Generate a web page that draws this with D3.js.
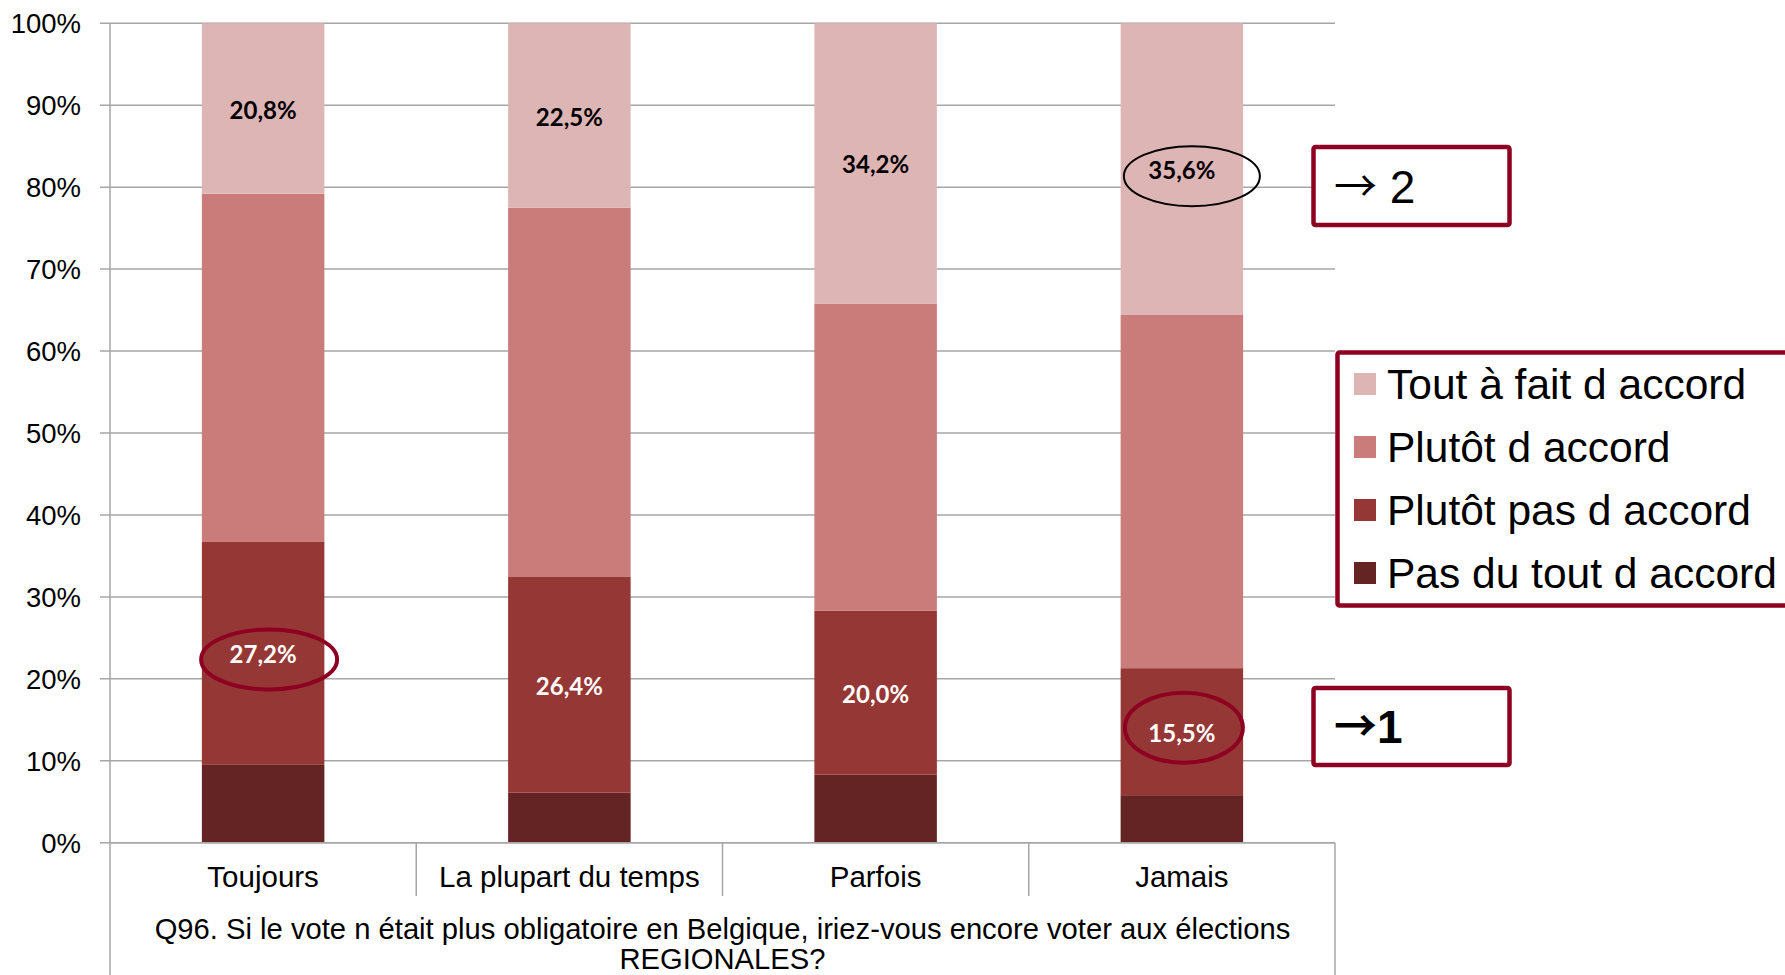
<!DOCTYPE html>
<html>
<head>
<meta charset="utf-8">
<script src="https://cdn.jsdelivr.net/npm/d3@7"></script>
<style>
  html, body { margin: 0; padding: 0; background: #fff; }
  svg { display: block; }
</style>
</head>
<body>
<svg id="chart" width="1785" height="975"></svg>
<script>
// ---- Data ----
const categories = ["Toujours", "La plupart du temps", "Parfois", "Jamais"];
const seriesNames = ["Pas du tout d accord", "Plutôt pas d accord", "Plutôt d accord", "Tout à fait d accord"];
const pasDuTout    = [9.5, 6.1, 8.3, 5.8];
const plutotPas    = [27.2, 26.4, 20.0, 15.5];
const plutotAccord = [42.5, 45.0, 37.5, 43.1];
const toutAFait    = [20.8, 22.5, 34.2, 35.6];
const yTicks = [0, 10, 20, 30, 40, 50, 60, 70, 80, 90, 100];
const titleLines = ["Q96. Si le vote n était plus obligatoire en Belgique, iriez-vous encore voter aux élections", "REGIONALES?"];
const legendOrder = ["Tout à fait d accord", "Plutôt d accord", "Plutôt pas d accord", "Pas du tout d accord"];

const colors = {
  "Pas du tout d accord": "#632423",
  "Plutôt pas d accord": "#953735",
  "Plutôt d accord": "#CA7C7B",
  "Tout à fait d accord": "#DEB5B5"
};
const labelled = { "Plutôt pas d accord": "#ffffff", "Tout à fait d accord": "#000000" };

const table = categories.map((c, i) => ({
  cat: c,
  "Pas du tout d accord": pasDuTout[i],
  "Plutôt pas d accord": plutotPas[i],
  "Plutôt d accord": plutotAccord[i],
  "Tout à fait d accord": toutAFait[i]
}));

const svg = d3.select("#chart");
const pLeft = 110, pRight = 1335, pTop = 23.3, pBottom = 842.7;
const accent = "#8E0022";
const sans = "Liberation Sans, Arial, sans-serif";

const x = d3.scaleBand().domain(categories).range([pLeft, pRight]).padding(0);
const y = d3.scaleLinear().domain([0, 100]).range([pBottom, pTop]);
const barW = x.bandwidth() * 0.4;

// gridlines
svg.append("g").selectAll("line").data(yTicks).join("line")
  .attr("x1", pLeft - 10).attr("x2", pRight)
  .attr("y1", d => y(d)).attr("y2", d => y(d))
  .attr("stroke", "#A6A6A6").attr("stroke-width", 1.5);

// y tick labels
svg.append("g").selectAll("text").data(yTicks).join("text")
  .attr("x", 81).attr("y", d => y(d))
  .attr("dy", "0.36em")
  .attr("text-anchor", "end")
  .attr("font-family", sans)
  .attr("font-size", 27.5)
  .attr("fill", "#000")
  .text(d => d + "%");

// stacked bars
const stack = d3.stack().keys(seriesNames)(table);
const layers = svg.append("g").selectAll("g").data(stack).join("g")
  .attr("fill", d => colors[d.key]);
layers.selectAll("rect").data(d => d).join("rect")
  .attr("x", d => x(d.data.cat) + (x.bandwidth() - barW) / 2)
  .attr("width", barW)
  .attr("y", d => y(d[1]))
  .attr("height", d => y(d[0]) - y(d[1]));

// axes lines
svg.append("line").attr("x1", pLeft).attr("x2", pLeft).attr("y1", pTop).attr("y2", 975)
  .attr("stroke", "#A6A6A6").attr("stroke-width", 1.5);
svg.append("line").attr("x1", pRight).attr("x2", pRight).attr("y1", pBottom).attr("y2", 975)
  .attr("stroke", "#A6A6A6").attr("stroke-width", 1.5);
svg.append("line").attr("x1", pLeft).attr("x2", pRight).attr("y1", pBottom).attr("y2", pBottom)
  .attr("stroke", "#A6A6A6").attr("stroke-width", 1.5);
svg.append("g").selectAll("line").data(categories.slice(1)).join("line")
  .attr("x1", d => x(d)).attr("x2", d => x(d))
  .attr("y1", pBottom).attr("y2", 896)
  .attr("stroke", "#A6A6A6").attr("stroke-width", 1.5);

// category labels
svg.append("g").selectAll("text").data(categories).join("text")
  .attr("x", d => x(d) + x.bandwidth() / 2)
  .attr("y", 887)
  .attr("text-anchor", "middle")
  .attr("font-family", sans)
  .attr("font-size", 29.5)
  .attr("fill", "#000")
  .text(d => d);

// axis title
svg.append("g").selectAll("text").data(titleLines).join("text")
  .attr("x", (pLeft + pRight) / 2)
  .attr("y", (d, i) => 939 + i * 30)
  .attr("text-anchor", "middle")
  .attr("font-family", sans)
  .attr("font-size", 29.2)
  .attr("fill", "#000")
  .text(d => d);

// data labels
const labelPos = {};
stack.filter(s => labelled[s.key]).forEach(s => {
  svg.append("g").selectAll("text").data(s).join("text")
    .attr("x", d => x(d.data.cat) + x.bandwidth() / 2)
    .attr("y", d => y((d[0] + d[1]) / 2))
    .attr("dy", "0.42em")
    .attr("text-anchor", "middle")
    .attr("font-family", "Lato, sans-serif")
    .attr("font-weight", "bold")
    .attr("font-size", 24)
    .attr("fill", labelled[s.key])
    .text(d => (d[1] - d[0]).toFixed(1).replace(".", ",") + "%")
    .each(function(d) {
      labelPos[s.key + "|" + d.data.cat] = { cx: x(d.data.cat) + x.bandwidth() / 2, cy: y((d[0] + d[1]) / 2) };
    });
});

// highlight ellipses
const highlights = [
  { key: "Plutôt pas d accord|Toujours", dx: 6, dy: 6, rx: 68, ry: 30, color: accent, w: 4 },
  { key: "Plutôt pas d accord|Jamais", dx: 2, dy: -4, rx: 59, ry: 35, color: accent, w: 4 },
  { key: "Tout à fait d accord|Jamais", dx: 10, dy: 7, rx: 68, ry: 30, color: "#000", w: 2 }
];
svg.append("g").selectAll("ellipse").data(highlights).join("ellipse")
  .attr("cx", d => labelPos[d.key].cx + d.dx)
  .attr("cy", d => labelPos[d.key].cy + d.dy)
  .attr("rx", d => d.rx).attr("ry", d => d.ry)
  .attr("fill", "none")
  .attr("stroke", d => d.color)
  .attr("stroke-width", d => d.w);

// annotation boxes
const boxes = [
  { y0: 147, y1: 225, arrow: "→", num: " 2", bold: false },
  { y0: 688, y1: 765, arrow: "→", num: "1", bold: true }
];
const bx = svg.append("g").selectAll("g").data(boxes).join("g");
bx.append("rect")
  .attr("x", 1313.5).attr("width", 196)
  .attr("y", d => d.y0).attr("height", d => d.y1 - d.y0)
  .attr("rx", 2)
  .attr("fill", "#fff").attr("stroke", accent).attr("stroke-width", 4.5);
const bt = bx.append("text")
  .attr("x", 1334)
  .attr("y", d => (d.y0 + d.y1) / 2 + 16.5)
  .attr("font-size", 46)
  .attr("fill", "#000")
  .attr("font-weight", d => d.bold ? "bold" : "normal");
bt.append("tspan")
  .attr("font-family", "Noto Sans CJK JP, sans-serif")
  .attr("font-size", 43)
  .attr("dy", -1)
  .text(d => d.arrow);
bt.append("tspan")
  .attr("font-family", sans)
  .attr("font-size", 46)
  .attr("dy", 1)
  .text(d => d.num);

// legend
const lg = svg.append("g");
lg.append("rect").attr("x", 1337.5).attr("y", 352.5).attr("width", 500).attr("height", 253)
  .attr("rx", 2)
  .attr("fill", "#fff").attr("stroke", accent).attr("stroke-width", 4.5);
const items = lg.selectAll("g.item").data(legendOrder).join("g").attr("class", "item")
  .attr("transform", (d, i) => `translate(0, ${384 + i * 63})`);
items.append("rect").attr("x", 1354).attr("y", -11).attr("width", 22).attr("height", 22)
  .attr("fill", d => colors[d]);
items.append("text").attr("x", 1387).attr("y", 0).attr("dy", "0.36em")
  .attr("font-family", sans)
  .attr("font-size", 42.5)
  .attr("fill", "#000")
  .text(d => d);
</script>
</body>
</html>
